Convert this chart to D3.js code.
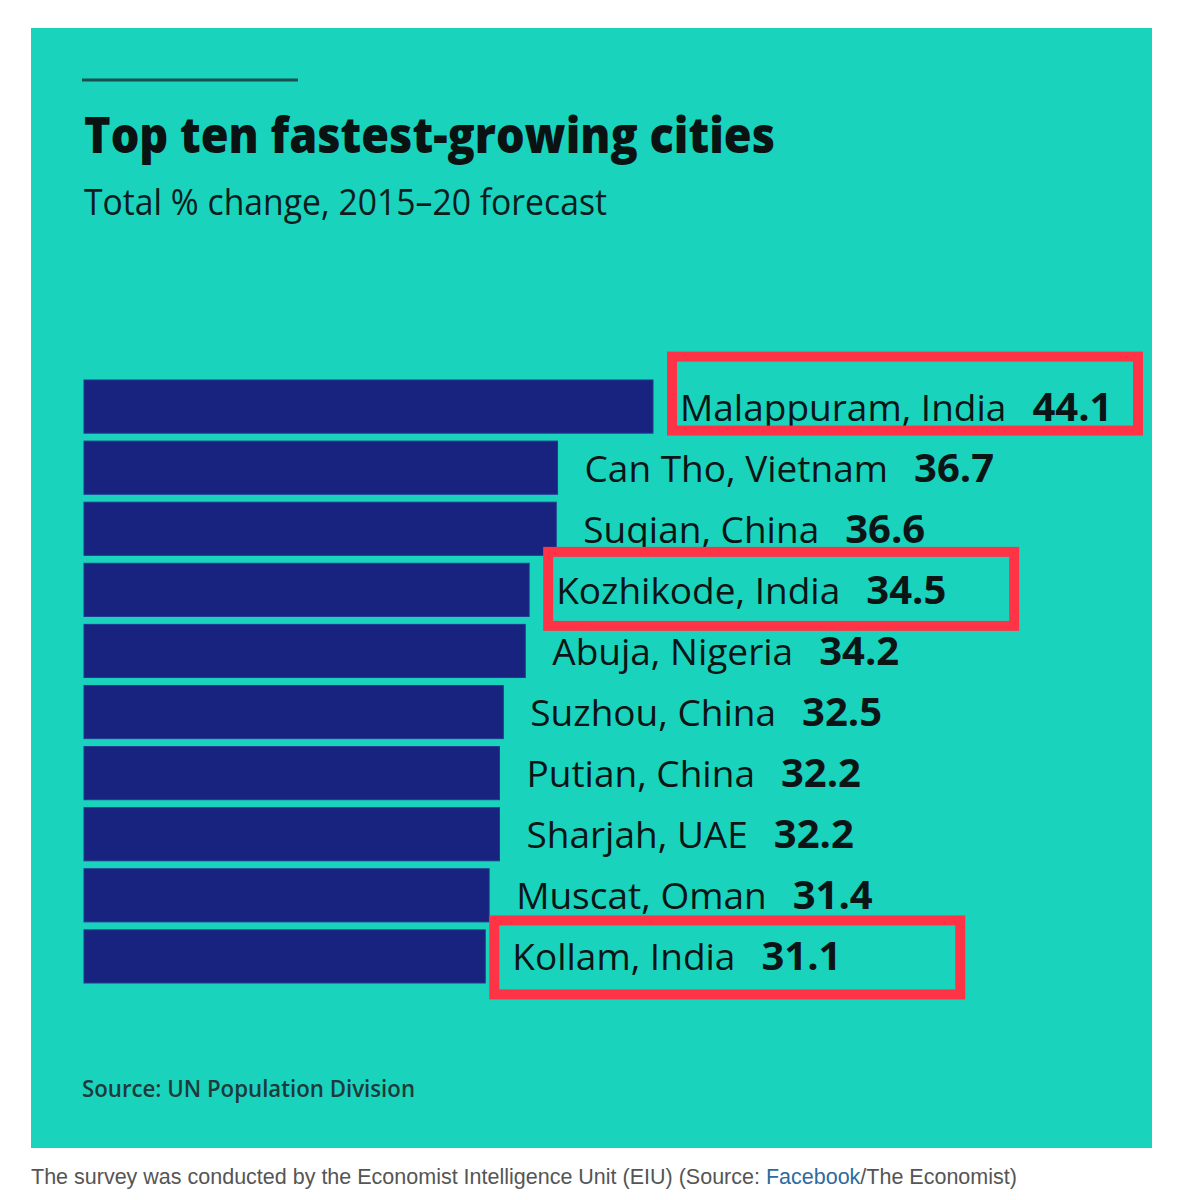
<!DOCTYPE html>
<html>
<head>
<meta charset="utf-8">
<script src="https://cdn.jsdelivr.net/npm/d3@7"></script>
<style>
  body { margin: 0; background: #fff; }
  text { font-family: "Open Sans", "Noto Sans", sans-serif; }
</style>
</head>
<body>
<div id="chart"></div>
<script>
const cities = [
  "Malappuram, India", "Can Tho, Vietnam", "Suqian, China", "Kozhikode, India",
  "Abuja, Nigeria", "Suzhou, China", "Putian, China", "Sharjah, UAE",
  "Muscat, Oman", "Kollam, India"
];
const growth = [44.1, 36.7, 36.6, 34.5, 34.2, 32.5, 32.2, 32.2, 31.4, 31.1];
const highlighted = ["Malappuram, India", "Kozhikode, India", "Kollam, India"];

const title = "Top ten fastest-growing cities";
const subtitle = "Total % change, 2015\u201320 forecast";
const source = "Source: UN Population Division";

const rows = cities.map((c, i) => ({ city: c, value: growth[i] }));

const svg = d3.select("#chart").append("svg")
  .attr("width", 1183)
  .attr("height", 1200);

// teal panel
svg.append("rect")
  .attr("x", 31).attr("y", 28)
  .attr("width", 1121).attr("height", 1120)
  .attr("fill", "#1ad3bd");

svg.append("line")
  .attr("x1", 82).attr("x2", 298)
  .attr("y1", 80).attr("y2", 80)
  .attr("stroke", "#17504f")
  .attr("stroke-width", 3);

svg.append("text")
  .attr("x", 84).attr("y", 153)
  .attr("font-size", 50)
  .attr("font-weight", 800)
  .attr("fill", "#0a1212")
  .attr("textLength", 691)
  .attr("lengthAdjust", "spacingAndGlyphs")
  .text(title);

svg.append("text")
  .attr("x", 84).attr("y", 215)
  .attr("font-size", 37)
  .attr("fill", "#0d1c1c")
  .attr("textLength", 523)
  .attr("lengthAdjust", "spacingAndGlyphs")
  .text(subtitle);

const x = d3.scaleLinear()
  .domain([0, d3.max(growth)])
  .range([84, 653]);

const y = d3.scaleBand()
  .domain(cities)
  .range([380, 983])
  .paddingInner(0.13);

const plot = svg.append("g");

plot.selectAll("rect.bar")
  .data(rows)
  .join("rect")
  .attr("class", "bar")
  .attr("x", x(0))
  .attr("y", d => y(d.city))
  .attr("width", d => x(d.value) - x(0))
  .attr("height", y.bandwidth())
  .attr("fill", "#17237e")
  .attr("stroke", "#23398f")
  .attr("stroke-width", 1);

const labels = plot.selectAll("text.label")
  .data(rows)
  .join("text")
  .attr("class", "label")
  .attr("x", d => x(d.value) + 27)
  .attr("y", d => y(d.city) + y.bandwidth() / 2 + 14)
  .attr("font-size", 37)
  .attr("fill", "#0b1515");

labels.append("tspan").text(d => d.city);
labels.append("tspan")
  .attr("dx", 26)
  .attr("font-size", 40)
  .attr("font-weight", 700)
  .text(d => d.value.toFixed(1));

// hand-drawn red boxes, offsets relative to the label start
const boxShift = [[-13, -13], [-13, -1], [-23, 1]];
const boxW = 476, boxH = 84, boxStroke = 10;

plot.selectAll("rect.hl")
  .data(highlighted)
  .join("rect")
  .attr("class", "hl")
  .attr("x", (c, i) => x(growth[cities.indexOf(c)]) + 27 + boxShift[i][0] + boxStroke / 2)
  .attr("y", (c, i) => y(c) + y.bandwidth() / 2 - boxH / 2 + boxShift[i][1] + boxStroke / 2)
  .attr("width", boxW - boxStroke)
  .attr("height", boxH - boxStroke)
  .attr("fill", "none")
  .attr("stroke", "#fe3446")
  .attr("stroke-width", boxStroke);

svg.append("text")
  .attr("x", 82).attr("y", 1097)
  .attr("font-size", 24)
  .attr("font-weight", 600)
  .attr("fill", "#1d3b3b")
  .attr("textLength", 333)
  .attr("lengthAdjust", "spacingAndGlyphs")
  .text(source);

const caption = svg.append("text")
  .attr("x", 31).attr("y", 1184)
  .attr("font-size", 21.5)
  .style("font-family", "'Liberation Sans', Arial, sans-serif")
  .attr("fill", "#555");
caption.append("tspan").text("The survey was conducted by the Economist Intelligence Unit (EIU) (Source: ");
caption.append("tspan").attr("fill", "#2f6a9f").text("Facebook");
caption.append("tspan").text("/The Economist)");
</script>
</body>
</html>
